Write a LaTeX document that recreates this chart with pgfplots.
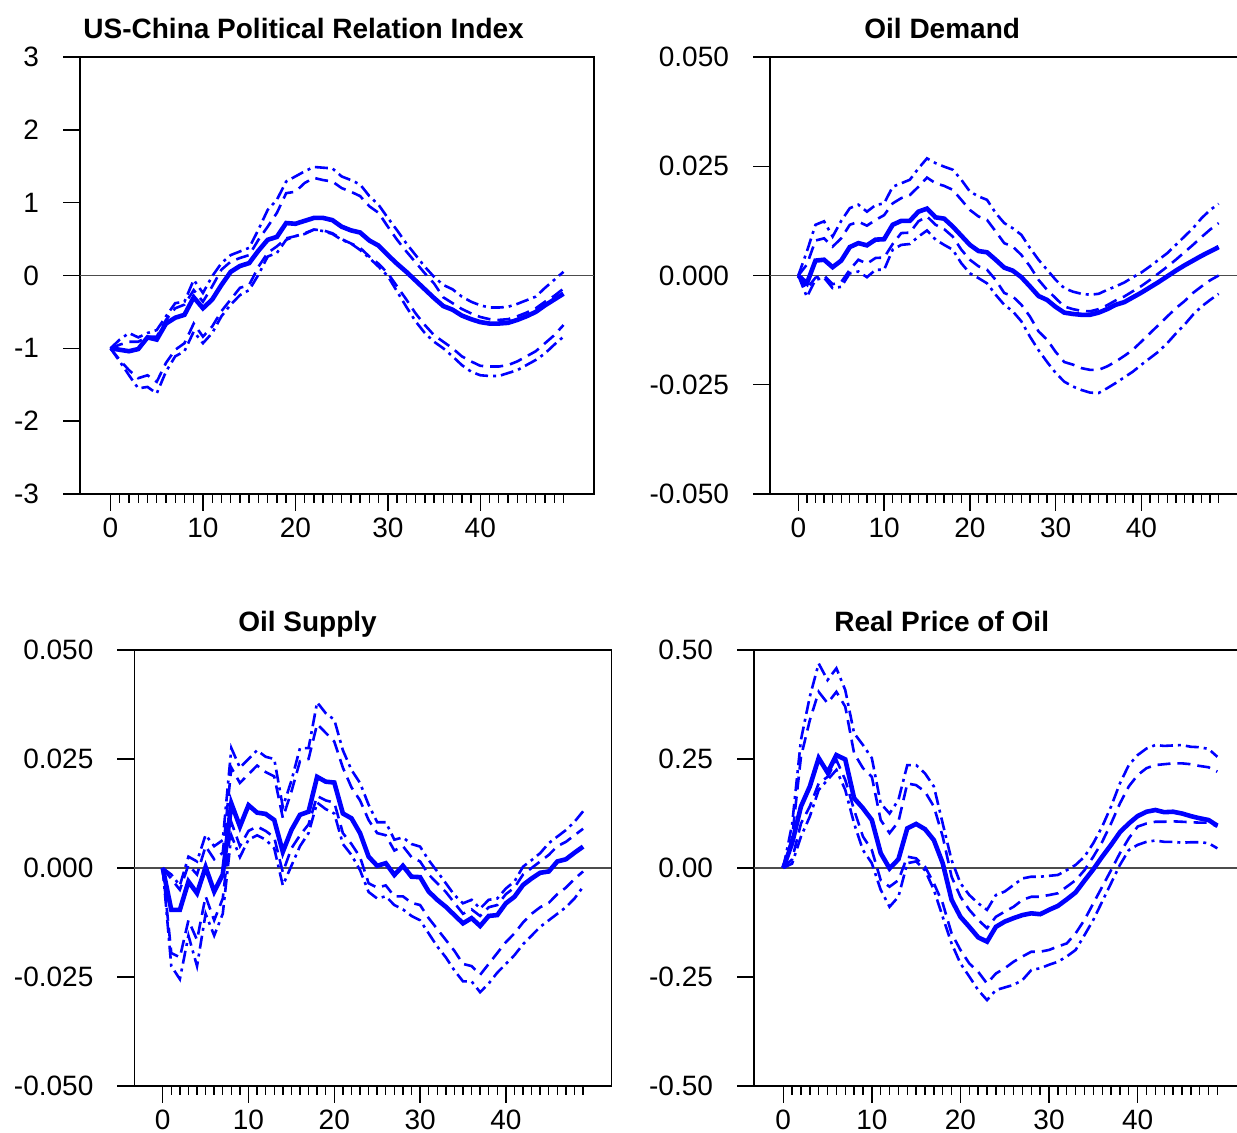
\documentclass[border=0pt]{standalone}
\usepackage{fontspec}
\setmainfont{Liberation Sans}
\usepackage{pgfplots}
\usepackage{pgfplotstable}
\pgfplotsset{compat=1.18}
\definecolor{irfblue}{RGB}{0,0,255}

% columns: horizon, outer upper, inner upper, response, inner lower, outer lower
\pgfplotstableread{
t udd ud s ld ldd
0 -1.00 -1.00 -1.00 -1.00 -1.00
1 -0.88 -0.95 -1.02 -1.16 -1.18
2 -0.79 -0.91 -1.04 -1.30 -1.37
3 -0.85 -0.91 -1.01 -1.41 -1.55
4 -0.79 -0.84 -0.85 -1.37 -1.53
5 -0.75 -0.84 -0.88 -1.46 -1.62
6 -0.56 -0.61 -0.66 -1.20 -1.32
7 -0.38 -0.45 -0.58 -1.02 -1.11
8 -0.36 -0.40 -0.54 -0.93 -1.04
9 -0.06 -0.20 -0.30 -0.66 -0.77
10 -0.24 -0.36 -0.45 -0.84 -0.93
11 -0.01 -0.15 -0.33 -0.70 -0.79
12 0.17 0.08 -0.13 -0.49 -0.56
13 0.28 0.19 0.05 -0.33 -0.40
14 0.33 0.24 0.13 -0.17 -0.27
15 0.38 0.28 0.17 -0.13 -0.20
16 0.63 0.49 0.34 0.12 0.01
17 0.90 0.67 0.49 0.31 0.26
18 1.04 0.86 0.53 0.40 0.31
19 1.29 1.13 0.72 0.51 0.49
20 1.36 1.15 0.71 0.54 0.54
21 1.43 1.27 0.75 0.58 0.57
22 1.49 1.34 0.79 0.63 0.63
23 1.48 1.31 0.79 0.62 0.61
24 1.47 1.29 0.76 0.58 0.57
25 1.36 1.20 0.67 0.50 0.49
26 1.31 1.15 0.62 0.44 0.44
27 1.25 1.09 0.59 0.38 0.35
28 1.09 0.95 0.48 0.26 0.24
29 0.97 0.86 0.41 0.16 0.12
30 0.79 0.67 0.28 0.03 -0.01
31 0.62 0.49 0.16 -0.15 -0.22
32 0.44 0.33 0.05 -0.33 -0.43
33 0.28 0.18 -0.07 -0.52 -0.63
34 0.12 0.03 -0.19 -0.68 -0.79
35 -0.02 -0.11 -0.31 -0.82 -0.91
36 -0.13 -0.30 -0.42 -0.91 -1.00
37 -0.19 -0.38 -0.47 -1.00 -1.11
38 -0.29 -0.46 -0.55 -1.11 -1.23
39 -0.36 -0.52 -0.60 -1.18 -1.32
40 -0.41 -0.57 -0.64 -1.24 -1.37
41 -0.44 -0.60 -0.66 -1.25 -1.38
42 -0.44 -0.61 -0.66 -1.25 -1.38
43 -0.43 -0.60 -0.65 -1.23 -1.34
44 -0.39 -0.56 -0.61 -1.18 -1.30
45 -0.34 -0.51 -0.56 -1.11 -1.23
46 -0.29 -0.45 -0.50 -1.04 -1.16
47 -0.17 -0.36 -0.41 -0.93 -1.07
48 -0.06 -0.28 -0.33 -0.82 -0.95
49 0.05 -0.18 -0.25 -0.68 -0.84
}\polrel

\pgfplotstableread{
t udd ud s ld ldd
0 0 0 0 0 0
1 0.0055 0.0025 -0.0018 -0.0030 -0.0049
2 0.0116 0.0080 0.0034 -0.0005 -0.0010
3 0.0124 0.0085 0.0036 0.0000 -0.0005
4 0.0089 0.0066 0.0019 -0.0020 -0.0029
5 0.0125 0.0085 0.0034 -0.0015 -0.0026
6 0.0154 0.0116 0.0065 0.0013 0.0005
7 0.0162 0.0123 0.0074 0.0036 0.0009
8 0.0146 0.0114 0.0069 0.0027 -0.0004
9 0.0161 0.0127 0.0082 0.0040 0.0013
10 0.0165 0.0138 0.0083 0.0041 0.0013
11 0.0203 0.0165 0.0116 0.0072 0.0059
12 0.0211 0.0177 0.0125 0.0097 0.0070
13 0.0219 0.0184 0.0125 0.0098 0.0072
14 0.0245 0.0203 0.0146 0.0124 0.0089
15 0.0268 0.0224 0.0153 0.0135 0.0103
16 0.0257 0.0211 0.0133 0.0116 0.0082
17 0.0249 0.0205 0.0130 0.0106 0.0070
18 0.0242 0.0196 0.0112 0.0089 0.0059
19 0.0219 0.0173 0.0091 0.0059 0.0028
20 0.0192 0.0150 0.0070 0.0036 0.0005
21 0.0181 0.0135 0.0056 0.0021 -0.0006
22 0.0173 0.0127 0.0053 0.0013 -0.0018
23 0.0143 0.0101 0.0036 -0.0010 -0.0044
24 0.0120 0.0074 0.0018 -0.0040 -0.0067
25 0.0108 0.0066 0.0011 -0.0048 -0.0082
26 0.0093 0.0047 -0.0004 -0.0067 -0.0105
27 0.0063 0.0021 -0.0025 -0.0094 -0.0140
28 0.0036 -0.0010 -0.0047 -0.0128 -0.0171
29 0.0013 -0.0033 -0.0056 -0.0147 -0.0198
30 -0.0010 -0.0052 -0.0072 -0.0175 -0.0223
31 -0.0029 -0.0071 -0.0085 -0.0198 -0.0243
32 -0.0037 -0.0077 -0.0088 -0.0204 -0.0254
33 -0.0042 -0.0081 -0.0090 -0.0212 -0.0262
34 -0.0044 -0.0082 -0.0090 -0.0216 -0.0268
35 -0.0042 -0.0077 -0.0085 -0.0216 -0.0269
36 -0.0033 -0.0068 -0.0077 -0.0208 -0.0258
37 -0.0025 -0.0057 -0.0067 -0.0197 -0.0246
38 -0.0016 -0.0048 -0.0061 -0.0184 -0.0233
39 -0.0004 -0.0036 -0.0050 -0.0170 -0.0220
40 0.0007 -0.0024 -0.0039 -0.0151 -0.0204
41 0.0021 -0.0010 -0.0027 -0.0132 -0.0189
42 0.0036 0.0005 -0.0015 -0.0113 -0.0174
43 0.0051 0.0020 -0.0002 -0.0094 -0.0155
44 0.0070 0.0036 0.0011 -0.0075 -0.0133
45 0.0089 0.0053 0.0023 -0.0059 -0.0113
46 0.0108 0.0070 0.0034 -0.0040 -0.0090
47 0.0131 0.0088 0.0045 -0.0025 -0.0071
48 0.0150 0.0105 0.0055 -0.0011 -0.0056
49 0.0164 0.0120 0.0065 0.0000 -0.0042
}\oildem

\pgfplotstableread{
t udd ud s ld ldd
0 0 0 0 0 0
1 -0.0015 -0.0025 -0.0096 -0.0195 -0.0225
2 -0.0040 -0.0050 -0.0096 -0.0205 -0.0255
3 0.0026 0.0007 -0.0031 -0.0120 -0.0155
4 0.0015 -0.0015 -0.0058 -0.0165 -0.0225
5 0.0076 0.0050 0.0002 -0.0065 -0.0105
6 0.0050 0.0020 -0.0054 -0.0120 -0.0155
7 0.0064 0.0035 -0.0015 -0.0070 -0.0105
8 0.0275 0.0230 0.0148 0.0105 0.0075
9 0.0230 0.0195 0.0095 0.0050 0.0025
10 0.0250 0.0215 0.0144 0.0085 0.0065
11 0.0270 0.0235 0.0127 0.0095 0.0075
12 0.0255 0.0220 0.0124 0.0085 0.0065
13 0.0250 0.0210 0.0110 0.0070 0.0045
14 0.0140 0.0115 0.0037 -0.0010 -0.0040
15 0.0200 0.0175 0.0087 0.0045 0.0005
16 0.0275 0.0245 0.0122 0.0075 0.0050
17 0.0275 0.0250 0.0129 0.0100 0.0080
18 0.0380 0.0330 0.0209 0.0165 0.0150
19 0.0355 0.0310 0.0198 0.0155 0.0135
20 0.0340 0.0290 0.0196 0.0150 0.0125
21 0.0270 0.0230 0.0125 0.0080 0.0055
22 0.0225 0.0185 0.0114 0.0055 0.0030
23 0.0195 0.0155 0.0080 0.0025 -0.0005
24 0.0145 0.0110 0.0026 -0.0035 -0.0055
25 0.0105 0.0080 0.0005 -0.0045 -0.0070
26 0.0105 0.0075 0.0011 -0.0040 -0.0065
27 0.0065 0.0040 -0.0016 -0.0065 -0.0085
28 0.0070 0.0050 0.0005 -0.0065 -0.0095
29 0.0055 0.0025 -0.0020 -0.0080 -0.0110
30 0.0049 0.0015 -0.0021 -0.0085 -0.0120
31 0.0018 -0.0015 -0.0054 -0.0115 -0.0150
32 -0.0008 -0.0035 -0.0073 -0.0140 -0.0180
33 -0.0035 -0.0055 -0.0089 -0.0165 -0.0205
34 -0.0062 -0.0080 -0.0108 -0.0190 -0.0235
35 -0.0081 -0.0105 -0.0127 -0.0220 -0.0260
36 -0.0073 -0.0095 -0.0115 -0.0225 -0.0260
37 -0.0093 -0.0110 -0.0133 -0.0245 -0.0285
38 -0.0073 -0.0090 -0.0110 -0.0220 -0.0265
39 -0.0070 -0.0085 -0.0108 -0.0195 -0.0240
40 -0.0047 -0.0060 -0.0081 -0.0170 -0.0220
41 -0.0031 -0.0045 -0.0066 -0.0150 -0.0200
42 0.0003 -0.0015 -0.0039 -0.0125 -0.0175
43 0.0018 0.0000 -0.0024 -0.0105 -0.0155
44 0.0034 0.0015 -0.0011 -0.0090 -0.0135
45 0.0057 0.0030 -0.0008 -0.0080 -0.0120
46 0.0072 0.0050 0.0015 -0.0060 -0.0105
47 0.0087 0.0060 0.0020 -0.0045 -0.0090
48 0.0106 0.0075 0.0035 -0.0025 -0.0070
49 0.0130 0.0090 0.0049 -0.0008 -0.0043
}\oilsup

\pgfplotstableread{
t udd ud s ld ldd
0 0 0 0 0 0
1 0.100 0.070 0.057 0.020 0.010
2 0.294 0.255 0.141 0.102 0.072
3 0.393 0.339 0.187 0.141 0.118
4 0.469 0.404 0.252 0.194 0.179
5 0.431 0.378 0.219 0.209 0.202
6 0.458 0.404 0.259 0.248 0.225
7 0.408 0.370 0.249 0.202 0.179
8 0.309 0.263 0.160 0.133 0.102
9 0.282 0.229 0.137 0.072 0.041
10 0.252 0.209 0.110 0.041 0.011
11 0.148 0.110 0.034 -0.028 -0.050
12 0.125 0.080 -0.001 -0.043 -0.089
13 0.156 0.106 0.020 -0.028 -0.066
14 0.236 0.194 0.091 0.026 0.011
15 0.236 0.190 0.101 0.022 0.015
16 0.217 0.175 0.089 0.003 -0.005
17 0.187 0.141 0.064 -0.035 -0.050
18 0.102 0.072 0.011 -0.081 -0.112
19 0.018 -0.020 -0.073 -0.150 -0.173
20 -0.035 -0.066 -0.112 -0.188 -0.219
21 -0.062 -0.096 -0.135 -0.219 -0.249
22 -0.081 -0.119 -0.159 -0.238 -0.280
23 -0.096 -0.138 -0.169 -0.265 -0.303
24 -0.062 -0.112 -0.135 -0.242 -0.280
25 -0.054 -0.100 -0.123 -0.230 -0.274
26 -0.039 -0.089 -0.115 -0.215 -0.268
27 -0.024 -0.073 -0.108 -0.203 -0.257
28 -0.020 -0.066 -0.104 -0.192 -0.234
29 -0.020 -0.066 -0.106 -0.192 -0.230
30 -0.018 -0.062 -0.096 -0.188 -0.222
31 -0.016 -0.058 -0.087 -0.180 -0.215
32 -0.005 -0.043 -0.072 -0.173 -0.203
33 0.007 -0.028 -0.056 -0.150 -0.188
34 0.026 -0.005 -0.029 -0.119 -0.154
35 0.057 0.026 -0.003 -0.081 -0.119
36 0.095 0.060 0.026 -0.043 -0.077
37 0.141 0.102 0.053 -0.005 -0.035
38 0.194 0.148 0.082 0.034 0.007
39 0.236 0.187 0.102 0.068 0.041
40 0.259 0.213 0.119 0.095 0.053
41 0.274 0.229 0.129 0.102 0.060
42 0.282 0.236 0.133 0.106 0.063
43 0.280 0.238 0.128 0.106 0.060
44 0.281 0.240 0.129 0.107 0.060
45 0.282 0.240 0.125 0.106 0.058
46 0.278 0.238 0.119 0.105 0.059
47 0.277 0.234 0.114 0.104 0.059
48 0.273 0.231 0.110 0.104 0.057
49 0.255 0.221 0.097 0.095 0.045
}\oilprice

\pgfplotsset{
  irf/.style={
    scale only axis, anchor=south west,
    xmin=-3.3, xmax=52.3,
    xtick={0,10,20,30,40}, minor xtick={1,...,49},
    tick align=outside, xtick pos=left, ytick pos=left,
    major tick length=8.5pt, minor tick length=4.5pt,
    every tick/.style={black, line width=0.7pt},
    axis line style={black, line width=0.7pt},
    font=\fontsize{14}{16}\selectfont,
    /pgf/number format/assume math mode=true,
    scaled y ticks=false,
    yticklabel style={xshift=-8.5pt},
    extra y ticks={0}, extra y tick labels={},
    extra y tick style={major tick length=0pt, grid=major,
      major grid style={black!70, line width=0.8pt}},
    title style={font=\fontsize{14}{16}\selectfont\bfseries, anchor=base, yshift=3pt},
  },
  cen/.style={irfblue, line width=2.3pt},
  inn/.style={irfblue, line width=1.3pt, dash pattern=on 6.5pt off 3.5pt},
  out/.style={irfblue, line width=1.3pt, dash pattern=on 6.5pt off 2.5pt on 1.5pt off 2.5pt},
}

\begin{document}
\begin{tikzpicture}
\path[use as bounding box] (0,0) rectangle (618.5pt,566.5pt);

\begin{axis}[irf, at={(40pt,319.5pt)}, width=257pt, height=218.5pt,
  ymin=-3, ymax=3, ytick={-3,-2,...,3},
  title={US-China Political Relation Index}, title style={at={(0.435,1)}}]
\addplot[out] table[x=t, y=udd] {\polrel};
\addplot[inn] table[x=t, y=ud] {\polrel};
\addplot[inn] table[x=t, y=ld] {\polrel};
\addplot[out] table[x=t, y=ldd] {\polrel};
\addplot[cen] table[x=t, y=s] {\polrel};
\end{axis}

\begin{axis}[irf, at={(385pt,319.5pt)}, width=238.5pt, height=218.5pt,
  ymin=-0.05, ymax=0.05, ytick={-0.05,-0.025,0,0.025,0.05},
  yticklabel style={/pgf/number format/.cd, fixed, fixed zerofill, precision=3},
  title={Oil Demand}, title style={at={(0.361,1)}}]
\addplot[out] table[x=t, y=udd] {\oildem};
\addplot[inn] table[x=t, y=ud] {\oildem};
\addplot[inn] table[x=t, y=ld] {\oildem};
\addplot[out] table[x=t, y=ldd] {\oildem};
\addplot[cen] table[x=t, y=s] {\oildem};
\end{axis}

\begin{axis}[irf, at={(67.2pt,23.5pt)}, width=238.5pt, height=218pt,
  ymin=-0.05, ymax=0.05, ytick={-0.05,-0.025,0,0.025,0.05},
  yticklabel style={/pgf/number format/.cd, fixed, fixed zerofill, precision=3},
  title={Oil Supply}, title style={at={(0.363,1)}}]
\addplot[out] table[x=t, y=udd] {\oilsup};
\addplot[inn] table[x=t, y=ud] {\oilsup};
\addplot[inn] table[x=t, y=ld] {\oilsup};
\addplot[out] table[x=t, y=ldd] {\oilsup};
\addplot[cen] table[x=t, y=s] {\oilsup};
\end{axis}

\begin{axis}[irf, at={(377pt,23.5pt)}, width=246.3pt, height=218pt,
  ymin=-0.5, ymax=0.5, ytick={-0.5,-0.25,0,0.25,0.5},
  yticklabel style={/pgf/number format/.cd, fixed, fixed zerofill, precision=2},
  title={Real Price of Oil}, title style={at={(0.381,1)}}]
\addplot[out] table[x=t, y=udd] {\oilprice};
\addplot[inn] table[x=t, y=ud] {\oilprice};
\addplot[inn] table[x=t, y=ld] {\oilprice};
\addplot[out] table[x=t, y=ldd] {\oilprice};
\addplot[cen] table[x=t, y=s] {\oilprice};
\end{axis}
\end{tikzpicture}
\end{document}
